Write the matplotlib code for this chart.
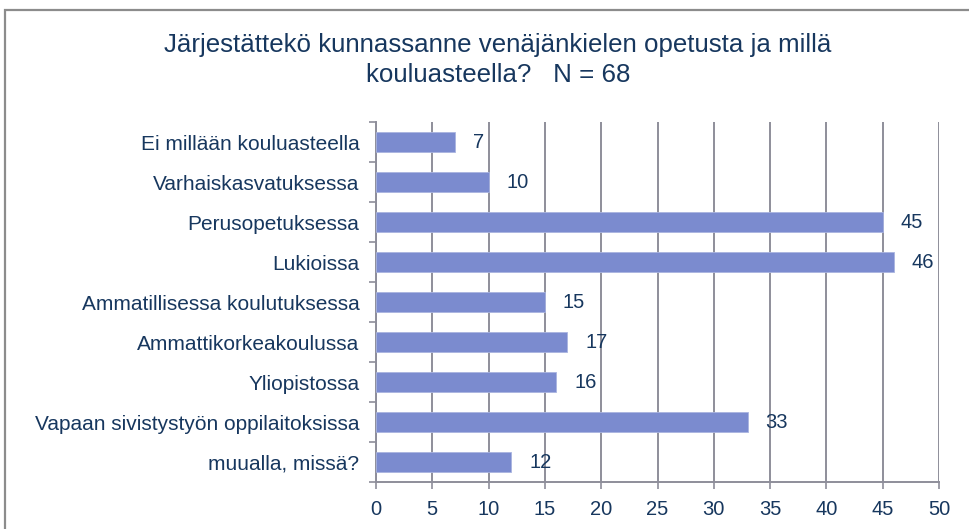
#!/usr/bin/env python3

import matplotlib
matplotlib.use("Agg")
import matplotlib.pyplot as plt
from matplotlib.patches import Rectangle


categories = [
    "Ei millään kouluasteella",
    "Varhaiskasvatuksessa",
    "Perusopetuksessa",
    "Lukioissa",
    "Ammatillisessa koulutuksessa",
    "Ammattikorkeakoulussa",
    "Yliopistossa",
    "Vapaan sivistystyön oppilaitoksissa",
    "muualla, missä?",
]
values = [7, 10, 45, 46, 15, 17, 16, 33, 12]
xticks = [0, 5, 10, 15, 20, 25, 30, 35, 40, 45, 50]
title = "Järjestättekö kunnassanne venäjänkielen opetusta ja millä\nkouluasteella?   N = 68"

text_color = "#17375E"
bar_color = "#7B8BCF"
grid_color = "#8E8E9A"


def main():
    plt.rcParams["font.family"] = ["Liberation Sans", "DejaVu Sans"]
    fig = plt.figure(figsize=(9.7, 5.29), dpi=100)

    # outer frame of the chart area
    fig.patches.append(Rectangle((5 / 970, -0.1), 1.2, 1 - 10 / 529 + 0.1,
                                 transform=fig.transFigure, fill=False,
                                 edgecolor="#8C8C8C", linewidth=1.6))

    ax = fig.add_axes([376 / 970, 1 - 482 / 529, (939 - 376) / 970, (482 - 122) / 529])

    y = list(range(len(categories)))
    ax.barh(y, values, height=0.5, color=bar_color, edgecolor="#A9B4E0", linewidth=0.6, zorder=3)
    for yi, v in zip(y, values):
        ax.text(v + 1.6, yi, str(v), va="center", ha="left", fontsize=14.5, color=text_color, zorder=4)

    ax.set_xlim(0, 50)
    ax.set_ylim(len(categories) - 0.5, -0.5)
    ax.set_xticks(xticks)
    ax.set_xticklabels([str(t) for t in xticks], fontsize=14.5, color=text_color)
    ax.set_yticks(y)
    ax.set_yticklabels(categories, fontsize=15, color=text_color)
    ax.set_yticks([i - 0.5 for i in range(len(categories) + 1)], minor=True)
    ax.tick_params(axis="y", which="major", length=0, pad=12)
    ax.tick_params(axis="y", which="minor", length=5, width=1.2, color=grid_color, direction="out")
    ax.tick_params(axis="x", length=5, width=1.2, color=grid_color, direction="out", pad=8)

    ax.grid(axis="x", color=grid_color, linewidth=1.4, zorder=0)
    ax.set_axisbelow(True)
    for side in ["top", "right"]:
        ax.spines[side].set_visible(False)
    for side in ["left", "bottom"]:
        ax.spines[side].set_color(grid_color)
        ax.spines[side].set_linewidth(1.4)

    fig.text(498 / 970, 1 - 60 / 529, title, ha="center", va="center", fontsize=18.6,
             color=text_color, linespacing=1.3)

    fig.savefig("out.png", dpi=100)


if __name__ == "__main__":
    main()
